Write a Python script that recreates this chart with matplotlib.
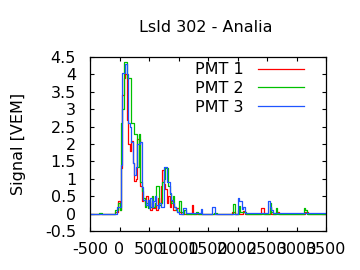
import matplotlib
matplotlib.use("Agg")
import matplotlib.pyplot as plt

# Traces (time [ns], signal [VEM]), step-wise
pmt1 = [(-500, 0.0), (-75, 0.05), (-25, 0.35), (0, 0.1), (25, 1.3), (50, 3.4), (75, 3.9),
        (100, 4.0), (125, 2.7), (150, 2.0), (175, 1.8), (200, 2.1), (225, 1.45), (250, 0.95),
        (275, 1.0), (300, 2.15), (350, 0.8), (375, 0.35), (400, 0.4), (425, 0.3), (450, 0.5),
        (475, 0.2), (500, 0.3), (525, 0.1), (550, 0.35), (575, 0.15), (600, 0.25), (625, 0.1),
        (650, 0.45), (675, 0.3), (700, 0.8), (725, 1.25), (750, 0.85), (775, 0.7), (800, 0.3),
        (825, 0.5), (850, 0.2), (875, 0.35), (900, 0.1), (950, 0.15), (1000, 0.05), (1050, 0.0),
        (1225, 0.25), (1250, 0.0), (1900, 0.05), (1950, 0.0), (2000, 0.1), (2025, 0.0),
        (2100, 0.08), (2125, 0.0), (2400, 0.15), (2450, 0.0), (2550, 0.2), (2575, 0.0),
        (2650, 0.05), (2700, 0.0), (3150, 0.05), (3200, 0.0), (3500, 0.0)]

pmt2 = [(-500, 0.0), (-350, 0.02), (-300, 0.0), (-75, 0.1), (-25, 0.3), (0, 0.1), (25, 2.6),
        (50, 3.0), (75, 4.35), (125, 3.9), (200, 2.6), (250, 2.3), (300, 1.35), (325, 2.3),
        (350, 0.9), (375, 0.65), (400, 0.45), (425, 0.2), (450, 0.3), (475, 0.15), (500, 0.4),
        (525, 0.2), (550, 0.5), (575, 0.2), (600, 0.3), (625, 0.8), (675, 0.25), (700, 0.3),
        (725, 0.9), (750, 1.0), (775, 1.3), (825, 0.8), (850, 0.55), (875, 0.3), (900, 0.5),
        (925, 0.2), (950, 0.1), (975, 0.05), (1000, 0.37), (1050, 0.05), (1075, 0.0),
        (1100, 0.1), (1125, 0.0), (1300, 0.05), (1325, 0.0), (1600, 0.03), (1650, 0.0),
        (1925, 0.28), (1950, 0.0), (2025, 0.22), (2050, 0.05), (2100, 0.05), (2150, 0.0),
        (2550, 0.3), (2575, 0.05), (2600, 0.0), (2650, 0.15), (2675, 0.0), (3125, 0.15),
        (3150, 0.1), (3175, 0.0), (3500, 0.0)]

pmt3 = [(-500, 0.0), (-300, -0.02), (-250, 0.0), (-50, 0.19), (25, 1.4), (50, 4.05),
        (100, 4.3), (125, 4.0), (150, 2.6), (175, 2.5), (200, 2.05), (225, 1.45), (250, 1.1),
        (275, 1.35), (300, 2.0), (350, 2.05), (375, 0.76), (400, 0.4), (450, 0.25), (475, 0.4),
        (500, 0.15), (525, 0.45), (550, 0.2), (575, 0.35), (600, 0.5), (625, 0.25), (650, 0.15),
        (675, 0.3), (700, 0.2), (750, 1.33), (800, 0.9), (850, 0.6), (875, 0.4), (900, 0.3),
        (925, 0.2), (950, 0.12), (975, 0.05), (1000, 0.0), (1075, 0.16), (1125, 0.02),
        (1375, 0.12), (1400, 0.0), (1575, 0.19), (1625, 0.0), (2000, 0.45), (2025, 0.35),
        (2075, 0.12), (2100, 0.19), (2125, 0.02), (2525, 0.36), (2550, 0.19), (2575, 0.1),
        (2600, 0.02), (3500, 0.0)]

labels = ["PMT 1", "PMT 2", "PMT 3"]
colors = ["#ff0000", "#00c000", "#1f55ff"]
xticks = [-500, 0, 500, 1000, 1500, 2000, 2500, 3000, 3500]
yticks = [-0.5, 0, 0.5, 1, 1.5, 2, 2.5, 3, 3.5, 4, 4.5]

plt.rcParams["font.family"] = "DejaVu Sans"
plt.rcParams["font.size"] = 11.5

fig = plt.figure(figsize=(3.6, 2.7), dpi=100)
ax = fig.add_axes([90 / 360, 1 - 231 / 270, 236 / 360, 174 / 270])

for trace, lab, col in zip([pmt1, pmt2, pmt3], labels, colors):
    t, v = zip(*trace)
    ax.step(t, v, where="post", color=col, lw=0.9, label=lab)

ax.set_xlim(-500, 3500)
ax.set_ylim(-0.5, 4.5)
ax.set_xticks(xticks)
ax.set_xticklabels([str(x) for x in xticks])
ax.set_yticks(yticks)
ax.set_yticklabels(["%g" % y for y in yticks])
ax.tick_params(axis="x", direction="in", length=3, width=0.8, top=True, pad=8)
ax.tick_params(axis="y", direction="in", length=3, width=0.8, right=True, pad=10)
for s in ax.spines.values():
    s.set_linewidth(0.9)

ax.set_ylabel("Signal [VEM]", labelpad=14)
fig.text(206 / 360, 1 - 27 / 270, "LsId 302 - Analia", ha="center", va="center", fontsize=11.5)

ax.legend(loc="upper right", bbox_to_anchor=(0.955, 1.035), frameon=False, markerfirst=False,
          handlelength=2.9, handletextpad=0.9, labelspacing=0.25, borderpad=0.2)

fig.savefig("out.png", dpi=100)
